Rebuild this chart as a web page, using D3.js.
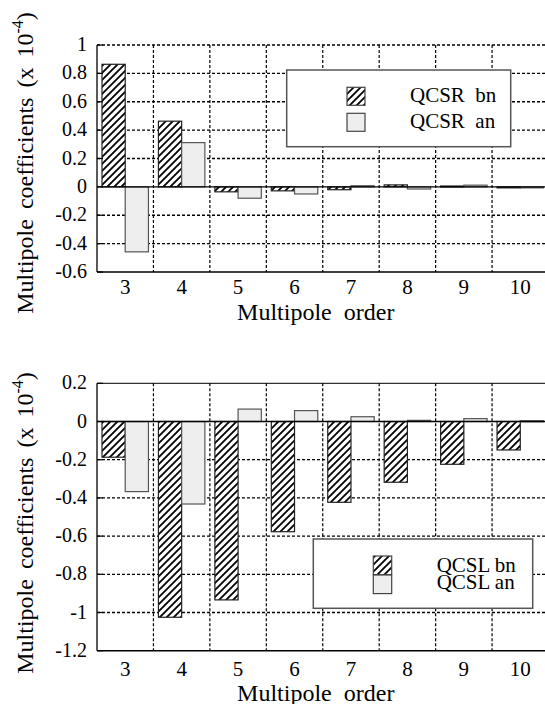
<!DOCTYPE html>
<html><head><meta charset="utf-8">
<script src="https://cdn.jsdelivr.net/npm/d3@7"></script>
<style>
html,body{margin:0;padding:0;background:#fff;overflow:hidden}
</style></head>
<body>
<svg id="c" width="545" height="704"></svg>
<script>
const categories = ["3","4","5","6","7","8","9","10"];
const seriesNames = ["bn","an"];
const qcsrBn = [0.864, 0.463, -0.035, -0.028, -0.020, 0.014, 0.006, -0.002];
const qcsrAn = [-0.458, 0.312, -0.080, -0.050, 0.008, -0.015, 0.012, -0.003];
const qcslBn = [-0.187, -1.025, -0.934, -0.577, -0.423, -0.318, -0.224, -0.149];
const qcslAn = [-0.367, -0.432, 0.065, 0.057, 0.025, 0.006, 0.015, 0.004];
const topTicks = [1, 0.8, 0.6, 0.4, 0.2, 0, -0.2, -0.4, -0.6];
const topTickLabels = ["1","0.8","0.6","0.4","0.2","0","-0.2","-0.4","-0.6"];
const botTicks = [0.2, 0, -0.2, -0.4, -0.6, -0.8, -1, -1.2];
const botTickLabels = ["0.2","0","-0.2","-0.4","-0.6","-0.8","-1","-1.2"];
const topLegend = ["QCSR  bn","QCSR  an"];
const botLegend = ["QCSL bn","QCSL an"];
const xTitle = "Multipole order";

const svg = d3.select("#c");
const defs = svg.append("defs");
const pat = defs.append("pattern").attr("id","hatch").attr("patternUnits","userSpaceOnUse")
  .attr("width",7).attr("height",7);
pat.append("rect").attr("width",7).attr("height",7).attr("fill","#fff");
pat.append("path").attr("d","M-1,1 L1,-1 M0,7 L7,0 M6,8 L8,6")
  .attr("stroke","#000").attr("stroke-width",1.8);

const x0 = 97, x1 = 548.5;

function txt(sel){ return sel.style("font-family",'"Liberation Serif", "Times New Roman", serif').attr("fill","#000"); }

function chart(opt){
  const g = svg.append("g");
  const x = d3.scaleBand().domain(categories).range([x0,x1]).padding(0);
  const xs = d3.scaleBand().domain(seriesNames).range([0,x.bandwidth()]).paddingInner(0).paddingOuter(0.215);
  const y = d3.scaleLinear().domain(opt.domain).range(opt.range);
  const yTop = opt.range[1], yBot = opt.range[0];
  g.selectAll(".hg").data(opt.ticks.filter(t=>t!==0 && t!==opt.domain[0] && (opt.dashTop || t!==opt.domain[1])))
    .enter().append("line")
    .attr("x1",x0).attr("x2",x1).attr("y1",d=>y(d)).attr("y2",d=>y(d))
    .attr("stroke","#000").attr("stroke-width",1.3).attr("stroke-dasharray","3,2");
  g.selectAll(".vg").data(categories.slice(1)).enter().append("line")
    .attr("x1",d=>x(d)).attr("x2",d=>x(d)).attr("y1",yTop).attr("y2",yBot)
    .attr("stroke","#000").attr("stroke-width",1.2).attr("stroke-dasharray","3,2");
  const data = [];
  categories.forEach((c,i)=>{
    data.push({c, s:"bn", v:opt.bn[i]});
    data.push({c, s:"an", v:opt.an[i]});
  });
  g.selectAll(".bar").data(data).enter().append("rect")
    .attr("x",d=>x(d.c)+xs(d.s))
    .attr("width",xs.bandwidth())
    .attr("y",d=>Math.min(y(d.v),y(0)))
    .attr("height",d=>Math.max(1,Math.abs(y(d.v)-y(0))))
    .attr("fill",d=>d.s==="bn"?"url(#hatch)":"#eeeeee")
    .attr("stroke",d=>d.s==="bn"?"#222":"#555")
    .attr("stroke-width",1.2);
  g.append("line").attr("x1",x0).attr("x2",x1).attr("y1",y(0)).attr("y2",y(0))
    .attr("stroke","#000").attr("stroke-width",1.3);
  g.append("line").attr("x1",x0).attr("x2",x0).attr("y1",yTop).attr("y2",yBot).attr("stroke","#000").attr("stroke-width",1.3);
  g.append("line").attr("x1",x0).attr("x2",x1).attr("y1",yBot).attr("y2",yBot).attr("stroke","#000").attr("stroke-width",1.5);
  if(!opt.dashTop){
    g.append("line").attr("x1",x0).attr("x2",x1).attr("y1",yTop).attr("y2",yTop).attr("stroke","#000").attr("stroke-width",1);
  }
  txt(g.selectAll(".yt").data(opt.ticks).enter().append("text"))
    .attr("x",87).attr("y",d=>y(d)).attr("dy","0.3em")
    .attr("text-anchor","end").attr("font-size",20)
    .text((d,i)=>opt.tickLabels[i]);
  g.selectAll(".ytk").data(opt.ticks).enter().append("line")
    .attr("x1",x0).attr("x2",x0+6).attr("y1",d=>y(d)).attr("y2",d=>y(d))
    .attr("stroke","#000").attr("stroke-width",1.2);
  txt(g.selectAll(".xt").data(categories).enter().append("text"))
    .attr("x",d=>x(d)+x.bandwidth()/2).attr("y",yBot+opt.xTickOff)
    .attr("text-anchor","middle").attr("font-size",21)
    .text(d=>d);
  txt(g.append("text")).attr("x",(x0+x1)/2 - 7).attr("y",yBot+opt.xTitleOff)
    .attr("text-anchor","middle").attr("font-size",24).attr("word-spacing","6px").text(xTitle);
  const yt = txt(g.append("text")).attr("transform",`translate(33,${opt.yTitleY}) rotate(-90)`)
    .attr("text-anchor","middle").attr("font-size",24).attr("word-spacing","4px");
  yt.append("tspan").text("Multipole coefficients (x 10");
  yt.append("tspan").attr("font-size",16).attr("dy",-10).text("-4");
  yt.append("tspan").attr("dy",10).text(")");
  const L = opt.legend;
  const lg = g.append("g");
  lg.append("rect").attr("x",L.x).attr("y",L.y).attr("width",L.w).attr("height",L.h)
    .attr("fill","#fff").attr("stroke","#555").attr("stroke-width",1.5);
  seriesNames.forEach((s,i)=>{
    lg.append("rect").attr("x",L.sx).attr("y",L.sy[i]).attr("width",L.sw).attr("height",L.sh)
      .attr("fill",s==="bn"?"url(#hatch)":"#eeeeee").attr("stroke","#444").attr("stroke-width",1.2);
    txt(lg.append("text")).attr("x",L.tx).attr("y",L.ty[i]).attr("font-size",21)
      .attr("xml:space","preserve").style("white-space","pre").text(opt.legendLabels[i]);
  });
}

chart({domain:[-0.6,1], range:[272,45], ticks:topTicks, tickLabels:topTickLabels,
  bn:qcsrBn, an:qcsrAn, dashTop:true, xTickOff:22, xTitleOff:48, yTitleY:163,
  legendLabels:topLegend,
  legend:{x:286.7,y:70,w:224,h:76.7,sx:347,sy:[87.3,113.3],sw:18,sh:18,tx:410,ty:[102,128]}});

chart({domain:[-1.2,0.2], range:[650.7,383.3], ticks:botTicks, tickLabels:botTickLabels,
  bn:qcslBn, an:qcslAn, dashTop:false, xTickOff:25, xTitleOff:50, yTitleY:523,
  legendLabels:botLegend,
  legend:{x:313.3,y:539,w:219.4,h:69.3,sx:373.3,sy:[556,575],sw:18.4,sh:18.6,tx:436.7,ty:[571.7,589]}});
</script>
</body></html>
